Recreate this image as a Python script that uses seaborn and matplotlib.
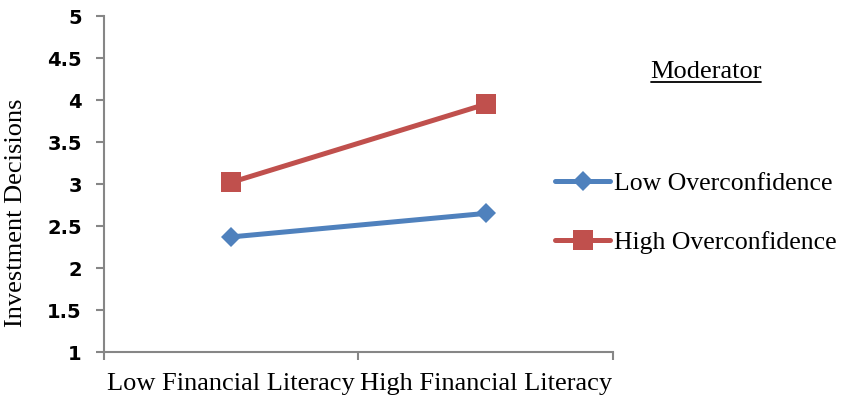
import matplotlib
matplotlib.use('Agg')
import matplotlib.pyplot as plt
import seaborn as sns
import pandas as pd

literacy = ["Low Financial Literacy", "High Financial Literacy"]
low_overconfidence = [2.37, 2.65]
high_overconfidence = [3.02, 3.95]
y_ticks = [1, 1.5, 2, 2.5, 3, 3.5, 4, 4.5, 5]

sns.set_style("white")
plt.rcParams['font.family'] = ['Liberation Serif', 'DejaVu Serif']
plt.rcParams['text.color'] = 'black'

low_df = pd.DataFrame({"x": literacy, "y": low_overconfidence})
high_df = pd.DataFrame({"x": literacy, "y": high_overconfidence})

fig = plt.figure(figsize=(8.42, 4), dpi=100)
ax = fig.add_axes([0.1235, 0.12, 0.6045, 0.84])

sns.lineplot(data=low_df, x="x", y="y", ax=ax, sort=False, color="#4F81BD",
             linewidth=3.6, marker="D", markersize=10, markeredgewidth=0,
             label="Low Overconfidence")
sns.lineplot(data=high_df, x="x", y="y", ax=ax, sort=False, color="#C0504D",
             linewidth=3.6, marker="s", markersize=14, markeredgewidth=0,
             label="High Overconfidence")

ax.set_xlim(-0.5, 1.5)
ax.set_ylim(1, 5)
ax.set_yticks(y_ticks)
ax.set_yticklabels([f"{v:g}" for v in y_ticks], fontfamily="DejaVu Sans",
                   fontweight="bold", fontsize=14)

# category boundaries get the tick marks, category centres get the labels
ax.set_xticks([-0.5, 0.5, 1.5])
ax.set_xticklabels([])
ax.set_xticks([0, 1], minor=True)
ax.set_xticklabels(literacy, minor=True, fontsize=19)
ax.tick_params(axis="x", which="minor", length=0, pad=15, labelcolor="black")
ax.tick_params(axis="x", which="major", length=6, width=1.5, color="#868686",
               direction="out", bottom=True)
ax.tick_params(axis="y", length=6, width=1.5, color="#868686", direction="out",
               left=True, pad=10, labelcolor="black")

ax.set_xlabel("")
ax.set_ylabel("Investment Decisions", fontsize=19, color="black")
ax.yaxis.set_label_coords(-0.151, 0.414)

for s in ["top", "right"]:
    ax.spines[s].set_visible(False)
for s in ["left", "bottom"]:
    ax.spines[s].set_color("#868686")
    ax.spines[s].set_linewidth(1.5)

leg = ax.legend(loc="upper left", bbox_to_anchor=(0.647, 0.595), bbox_transform=fig.transFigure,
                frameon=False, fontsize=18.5, handlelength=2.15, handletextpad=0.15,
                labelspacing=1.38, borderaxespad=0)
for t in leg.get_texts():
    t.set_color("black")

fig.text(0.8385, 0.82, "Moderator", fontsize=19, ha="center", va="center")
fig.add_artist(plt.Line2D([0.773, 0.904], [0.794, 0.794], color="black",
                          linewidth=1.3, transform=fig.transFigure))

fig.savefig("out.png", dpi=100)
